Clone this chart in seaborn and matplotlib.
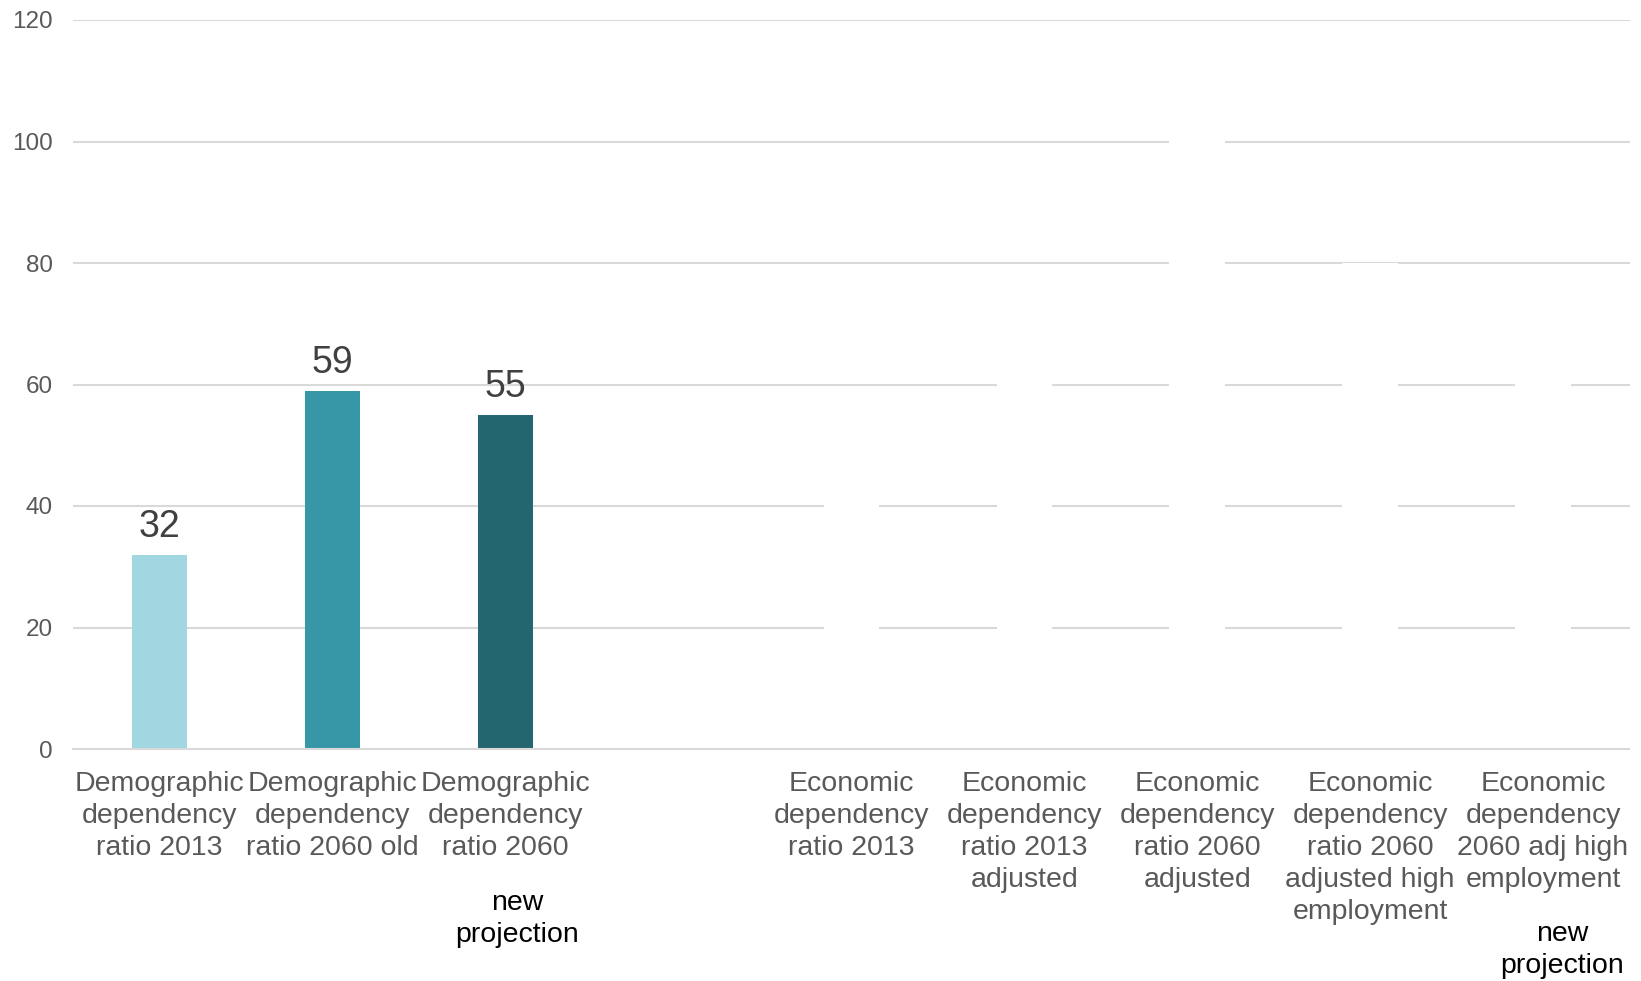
import matplotlib
matplotlib.use("Agg")
import matplotlib.pyplot as plt
import seaborn as sns
import pandas as pd

# ---- data ----
categories = [
    "Demographic\ndependency\nratio 2013",
    "Demographic\ndependency\nratio 2060 old",
    "Demographic\ndependency\nratio 2060",
    " ",
    "Economic\ndependency\nratio 2013",
    "Economic\ndependency\nratio 2013\nadjusted",
    "Economic\ndependency\nratio 2060\nadjusted",
    "Economic\ndependency\nratio 2060\nadjusted high\nemployment",
    "Economic\ndependency\n2060 adj high\nemployment",
]
demo_categories = categories[:3]
demo_values = [32, 59, 55]
# economic bars are present but drawn in white (hidden); heights estimated from grid gaps
econ_categories = categories[4:]
econ_values = [50, 70, 110, 80, 70]
y_ticks = [0, 20, 40, 60, 80, 100, 120]
note_text = "new\nprojection"

demo_colors = ["#A1D7E0", "#3897A6", "#246670"]
econ_colors = ["#FFFFFF"] * 5

sns.set_theme(style="white")
plt.rcParams["font.family"] = ["Liberation Sans", "DejaVu Sans"]

df = pd.DataFrame({
    "cat": demo_categories + econ_categories,
    "val": demo_values + econ_values,
})
palette = dict(zip(demo_categories + econ_categories, demo_colors + econ_colors))

fig = plt.figure(figsize=(16.41, 9.81), dpi=100)
ax = fig.add_axes([73 / 1641, 1 - 749 / 981, (1629.5 - 73) / 1641, (749 - 20) / 981])

sns.barplot(data=df, x="cat", y="val", hue="cat", order=categories,
            hue_order=demo_categories + econ_categories, palette=palette,
            width=0.32, legend=False, ax=ax, saturation=1, zorder=3,
            linewidth=0, errorbar=None)

for i, cont in enumerate(ax.containers[:3]):
    ax.bar_label(cont, labels=[str(demo_values[i])], padding=7,
                 fontsize=27, color="#404040")

ax.set_ylim(0, 120)
ax.set_xlim(-0.5, 8.5)
ax.set_yticks(y_ticks)
ax.set_yticklabels([str(t) for t in y_ticks], fontsize=17.5, color="#595959")
ax.set_xticks(range(len(categories)))
ax.set_xticklabels(categories, fontsize=20.5, color="#595959", linespacing=1.3)
ax.tick_params(axis="both", length=0)
ax.tick_params(axis="y", pad=14.5)
ax.tick_params(axis="x", pad=16)
ax.set_xlabel("")
ax.set_ylabel("")

ax.yaxis.grid(True, color="#D9D9D9", linewidth=1.5, zorder=0)
ax.set_axisbelow(True)
for s in ["top", "right", "left"]:
    ax.spines[s].set_visible(False)
ax.spines["bottom"].set_color("#D9D9D9")
ax.spines["bottom"].set_linewidth(1.5)
ax.spines["bottom"].set_zorder(4)

trans = ax.get_xaxis_transform()
ax.text(2.07, -0.233, note_text, transform=trans, ha="center", va="center",
        fontsize=20.5, color="black", linespacing=1.3)
ax.text(8.11, -0.276, note_text, transform=trans, ha="center", va="center",
        fontsize=20.5, color="black", linespacing=1.3)

fig.savefig("out.png", dpi=100, facecolor="white")
